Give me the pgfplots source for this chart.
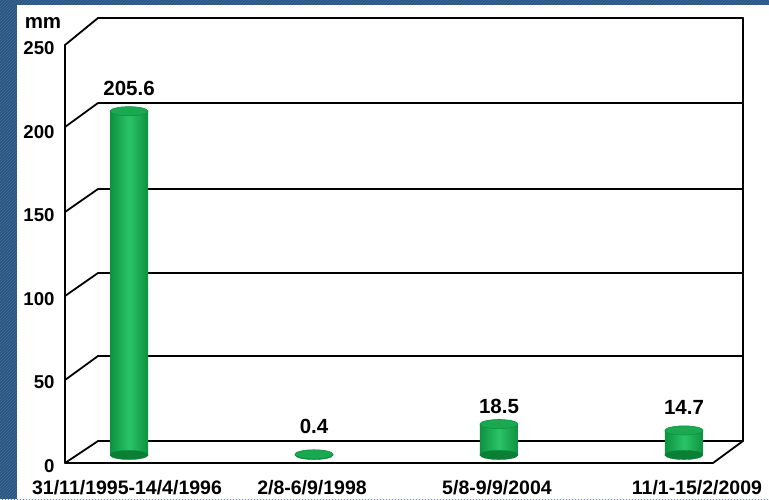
\documentclass[border=0pt]{standalone}
\usepackage{fontspec}
\setmainfont{Liberation Sans}
\usepackage{pgfplots}
\usepackage{pgfplotstable}
\pgfplotsset{compat=1.18}
\usetikzlibrary{patterns}
\definecolor{bgblue}{RGB}{44,86,130}
\definecolor{hatch}{RGB}{66,108,150}
\definecolor{gDark}{RGB}{14,146,64}
\definecolor{gBase}{RGB}{10,128,54}
\definecolor{gLight}{RGB}{42,196,102}
\definecolor{gTop}{RGB}{26,168,80}
\newcommand\tkf{\fontsize{18.6}{22}\selectfont\bfseries}
\newcommand\vlf{\fontsize{20.5}{24}\selectfont\bfseries}
\newcommand\ctf{\fontsize{19.5}{23}\selectfont\bfseries}

\pgfplotstableread{
x y base off
0 205.6 0 16
1 0.4 0 20.5
2 18.5 0 10.5
3 14.7 0 15.5
}\rain

\pgfplotsset{cyl/.style={ybar, bar width=38pt, bar shift=0pt, draw=none, left color=gDark, right color=gDark, middle color=gLight, xshift=15pt, yshift=8pt,
 nodes near coords, point meta=explicit,
 visualization depends on={\thisrow{off} \as \off},
 every node near coord/.append style={anchor=base, yshift=\off pt, font=\vlf, text=black}}}

\begin{document}
\begin{tikzpicture}
\useasboundingbox (0,0) rectangle (769pt,499pt);
\fill[bgblue] (0,0) rectangle (769pt,499pt);
\fill[pattern=north east lines, pattern color=hatch] (0,0) rectangle (769pt,499pt);
\fill[white] (17pt,0) rectangle (769pt,494pt);
\begin{scope}[yshift=499pt,x=1pt,y=-1pt, line width=1.8pt, line cap=round, line join=round]
 \foreach \yf/\yb in {463/441,380/356,296/273,212/189,127/103,45/18} {
   \draw (65,\yf) -- (98,\yb) -- (743,\yb);
 }
 \draw (65,45) -- (65,463) -- (713,463) -- (743,441) -- (743,18);
 \node[font=\vlf] at (43,23) {mm};
\end{scope}
\begin{axis}[at={(65pt,36pt)}, anchor=south west, scale only axis, width=648pt, height=418pt,
 xmin=-0.265, xmax=3.238, ymin=0, ymax=250, clip=false,
 axis line style={draw=none}, major tick length=0pt,
 ytick={0,50,...,250}, xtick={0,1,2,3},
 xticklabels={31/11/1995-14/4/1996, 2/8-6/9/1998, 5/8-9/9/2004, \hspace*{30pt}11/1-15/2/2009},
 yticklabel style={font=\tkf, xshift=-7pt, yshift=-3pt},
 /pgf/number format/assume math mode=true,
 xticklabel style={font=\ctf, anchor=base, xshift=13pt, yshift=-31.5pt},
]
\addplot[only marks, mark=*, mark size=19pt, mark options={yscale=0.24, fill=gBase, draw=gBase}, xshift=15pt, yshift=8pt] table[x=x, y=base]{\rain};
\addplot[cyl, restrict x to domain=-0.2:0.2] table[x=x, y=y, meta=y]{\rain};
\addplot[cyl, restrict x to domain=0.8:1.2] table[x=x, y=y, meta=y]{\rain};
\addplot[cyl, restrict x to domain=1.8:2.2] table[x=x, y=y, meta=y]{\rain};
\addplot[cyl, restrict x to domain=2.8:3.2] table[x=x, y=y, meta=y]{\rain};
\addplot[only marks, mark=*, mark size=19pt, mark options={yscale=0.24, fill=gTop, draw=gDark, line width=0.6pt}, xshift=15pt, yshift=8pt] table[x=x, y=y]{\rain};
\end{axis}
\end{tikzpicture}
\end{document}
